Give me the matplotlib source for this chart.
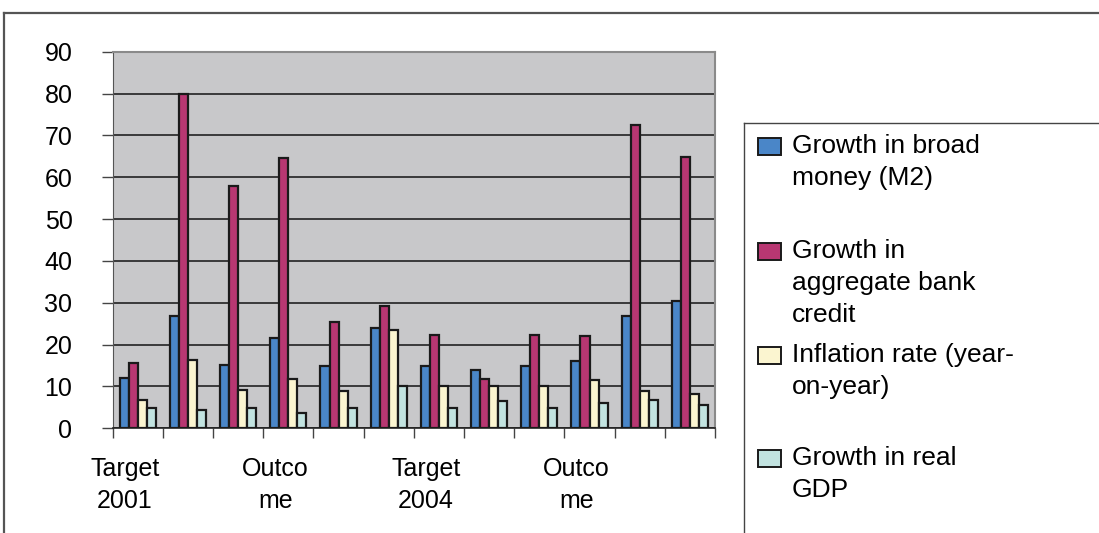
import numpy as np
import matplotlib.pyplot as plt
from matplotlib.lines import Line2D
from matplotlib.patches import Rectangle

plt.rcParams['font.family'] = ['Liberation Sans', 'DejaVu Sans']

# data
x_labels = ["Target\n2001", "Outco\nme", "Target\n2004", "Outco\nme"]
label_groups = [0, 3, 6, 9]

broad_money = [12.0, 26.8, 15.1, 21.5, 14.8, 23.9, 14.9, 13.9, 14.9, 16.1, 26.8, 30.4]
bank_credit = [15.5, 80.0, 58.0, 64.5, 25.5, 29.2, 22.4, 11.9, 22.4, 22.1, 72.6, 64.9]
inflation = [6.8, 16.3, 9.2, 11.9, 8.9, 23.5, 10.0, 10.0, 10.0, 11.5, 8.8, 8.2]
real_gdp = [4.8, 4.4, 4.8, 3.6, 4.8, 10.0, 4.8, 6.5, 4.8, 6.0, 6.8, 5.6]

series = [broad_money, bank_credit, inflation, real_gdp]
names = ["Growth in broad\nmoney (M2)",
         "Growth in\naggregate bank\ncredit",
         "Inflation rate (year-\non-year)",
         "Growth in real\nGDP"]
colors = ["#4a86c8", "#b83772", "#fbf5d0", "#c2e3e0"]

W, H = 1099, 533
fig = plt.figure(figsize=(W / 100, H / 100), dpi=100)
ax = fig.add_axes([112.7 / W, 1 - 428.3 / H, (715 - 112.7) / W, (428.3 - 51.7) / H])
ax.set_facecolor("#c8c8ca")

n = len(broad_money)
x = np.arange(n) + 0.5
bw = 0.18
for k, (vals, c) in enumerate(zip(series, colors)):
    ax.bar(x + (k - 1.5) * bw, vals, width=bw, color=c,
           edgecolor="#1a1a1a", linewidth=1.6, zorder=3)

ax.set_xlim(0, n)
ax.set_ylim(0, 90)
ax.set_yticks(range(0, 91, 10))
ax.yaxis.grid(True, color="#222", linewidth=1.2, zorder=1)
ax.set_axisbelow(True)
ax.tick_params(axis="y", direction="out", length=8, width=1, color="#444",
               pad=21, labelsize=18)

# tick marks at group boundaries, labels every third group
ax.set_xticks(np.arange(0, n + 1), minor=True)
ax.set_xticks([g + 0.24 for g in label_groups])
ax.set_xticklabels(x_labels, fontsize=18, linespacing=1.4)
ax.tick_params(axis="x", which="minor", direction="out", length=7, width=1, color="#444")
ax.tick_params(axis="x", which="major", length=0, pad=21)

for s in ["top", "right"]:
    ax.spines[s].set_color("#8a8a8a")
    ax.spines[s].set_linewidth(1.5)
ax.spines["left"].set_color("#555")
ax.spines["bottom"].set_color("#222")
ax.spines["bottom"].set_linewidth(1.2)

# outer chart frame
fig.add_artist(Line2D([4 / W, 1], [1 - 13 / H, 1 - 13 / H], color="#555", lw=1.6))
fig.add_artist(Line2D([4 / W, 4 / W], [0, 1 - 13 / H], color="#555", lw=1.6))

# legend box
lx, ly = 744 / W, 1 - 123 / H
fig.add_artist(Line2D([lx, 1], [ly, ly], color="#444", lw=1.0))
fig.add_artist(Line2D([lx, lx], [0, ly], color="#444", lw=1.0))

tops = [136, 241, 345, 448]
for name, c, t in zip(names, colors, tops):
    fig.add_artist(Rectangle((758 / W, 1 - (t + 19) / H), 23 / W, 17 / H,
                             facecolor=c, edgecolor="#1a1a1a", lw=1.4,
                             transform=fig.transFigure))
    fig.text(792 / W, 1 - (t - 2) / H, name, fontsize=19, va="top", ha="left",
             linespacing=1.42)

fig.savefig("out.png", dpi=100)
